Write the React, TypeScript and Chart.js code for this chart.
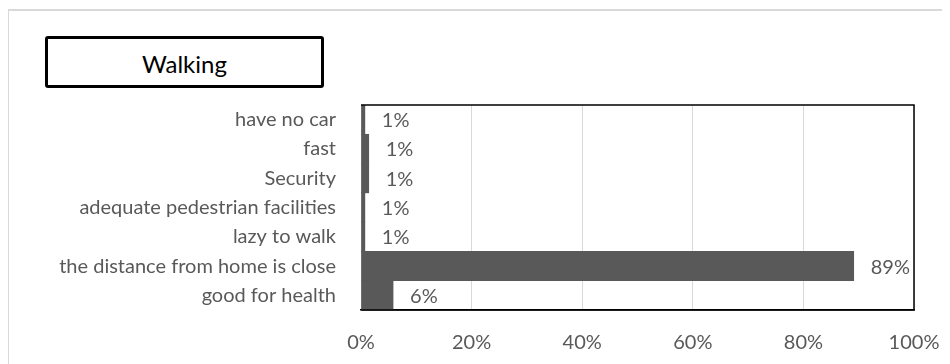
import React, { useEffect, useRef } from "react";
import { Chart, registerables } from "chart.js";

Chart.register(...registerables);

const categories = [
  "have no car",
  "fast",
  "Security",
  "adequate pedestrian facilities",
  "lazy to walk",
  "the distance from home is close",
  "good for health",
];
const values = [0.7, 1.4, 1.4, 0.7, 0.7, 89.1, 5.8];
const xTicks = [0, 20, 40, 60, 80, 100];
const chartTitle = "Walking";

const FONT = "Lato, 'Noto Sans', sans-serif";
const GRAY = "#595959";

const frame = {
  id: "frame",
  afterDatasetsDraw(chart: any) {
    const { ctx, chartArea } = chart;
    ctx.save();
    ctx.strokeStyle = "#000";
    ctx.lineWidth = 1.5;
    ctx.beginPath();
    ctx.moveTo(chartArea.left, chartArea.top);
    ctx.lineTo(chartArea.right, chartArea.top);
    ctx.lineTo(chartArea.right, chartArea.bottom);
    ctx.lineTo(chartArea.left, chartArea.bottom);
    ctx.stroke();
    ctx.restore();
  },
};

const dataLabels = {
  id: "dataLabels",
  afterDatasetsDraw(chart: any) {
    const { ctx } = chart;
    const meta = chart.getDatasetMeta(0);
    ctx.save();
    ctx.font = `20px ${FONT}`;
    ctx.fillStyle = GRAY;
    ctx.textAlign = "left";
    ctx.textBaseline = "middle";
    meta.data.forEach((bar: any, i: number) => {
      const v = chart.data.datasets[0].data[i] as number;
      ctx.fillText(`${Math.round(v)}%`, bar.x + 17, bar.y + 1);
    });
    ctx.restore();
  },
};

export default function App() {
  const ref = useRef<HTMLCanvasElement>(null);
  useEffect(() => {
    if (!ref.current) return;
    const chart = new Chart(ref.current, {
      type: "bar",
      data: {
        labels: categories,
        datasets: [
          {
            data: values,
            backgroundColor: GRAY,
            borderWidth: 0,
            barPercentage: 1,
            categoryPercentage: 1,
          },
        ],
      },
      options: {
        indexAxis: "y",
        animation: false,
        responsive: false,
        maintainAspectRatio: false,
        layout: { padding: { top: 97, right: 36, left: 0, bottom: 0 } },
        plugins: {
          legend: { display: false },
          tooltip: { enabled: false },
          title: { display: false },
        },
        scales: {
          x: {
            min: 0,
            max: 100,
            afterBuildTicks: (scale: any) => {
              scale.ticks = xTicks.map((v) => ({ value: v }));
            },
            afterFit: (scale: any) => {
              scale.height = 54;
              scale.paddingLeft = 0;
              scale.paddingRight = 0;
            },
            grid: { color: "#d9d9d9", lineWidth: 1, drawTicks: false },
            border: { color: "#000", width: 1.5 },
            ticks: {
              color: GRAY,
              font: { family: FONT, size: 20 },
              padding: 21,
              callback: (v: any) => `${v}%`,
            },
          },
          y: {
            afterFit: (scale: any) => {
              scale.width = 353;
              scale.paddingTop = 0;
              scale.paddingBottom = 0;
            },
            grid: { display: false, drawTicks: false },
            border: { color: "#d9d9d9", width: 1 },
            ticks: {
              color: GRAY,
              font: { family: FONT, size: 20 },
              padding: 25,
            },
          },
        },
      },
      plugins: [frame, dataLabels],
    });
    return () => chart.destroy();
  }, []);

  return (
    <div style={{ position: "relative", width: 942, height: 356, overflow: "hidden" }}>
      <div
        style={{
          position: "absolute",
          left: -1,
          top: 1,
          width: 1000,
          height: 1000,
          borderTop: "2px solid #d9d9d9",
          borderLeft: "2px solid #d9d9d9",
        }}
      />
      <canvas
        ref={ref}
        width={942}
        height={356}
        style={{ position: "absolute", left: 0, top: 0, width: 942, height: 356 }}
      />
      <div
        style={{
          position: "absolute",
          left: 37,
          top: 28,
          width: 279,
          height: 52,
          boxSizing: "border-box",
          border: "3px solid #000",
          borderRadius: 3,
          background: "#fff",
          display: "flex",
          alignItems: "center",
          justifyContent: "center",
          fontFamily: FONT,
          fontSize: 24,
          paddingTop: 3,
          color: "#000",
        }}
      >
        {chartTitle}
      </div>
    </div>
  );
}
